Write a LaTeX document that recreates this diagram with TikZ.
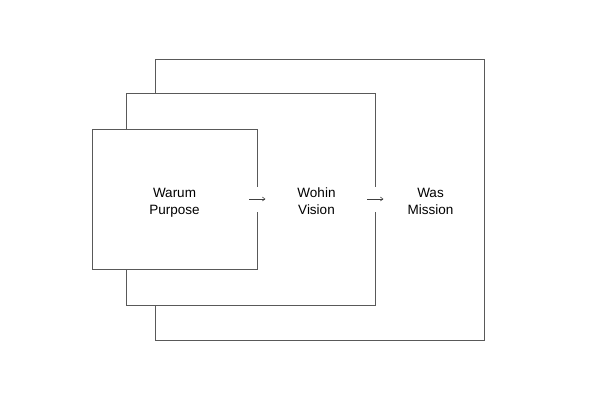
\documentclass[tikz,border=0pt]{standalone}
\usepackage{fontspec}
\setmainfont{Liberation Sans}
\usetikzlibrary{positioning,arrows.meta}

\begin{document}
\begin{tikzpicture}[
  x=1pt, y=-1pt,
  font=\fontsize{13.5}{17}\selectfont,
  frame/.style={draw=black!65, line width=0.7pt, fill=white, inner sep=0pt},
  lbl/.style={align=center, inner sep=0pt, anchor=base},
  gap/.style={fill=white, inner sep=0pt, minimum width=4pt, minimum height=25pt},
  arr/.style={-{Straight Barb[length=2.5pt,width=4pt]}, line width=0.6pt, black!75}
]
\useasboundingbox (0,0) rectangle (600,399);
% nested frames
\node[frame, minimum width=329pt, minimum height=281pt] (mission) at (319.5,199.5) {};
\node[frame, minimum width=249pt, minimum height=212pt] (vision) at (250.5,199) {};
\node[frame, minimum width=165pt, minimum height=140pt] (purpose) at (174.5,199) {};
% labels
\node[lbl] (warum) at (174.5,214) {Warum\\Purpose};
\node[lbl] (wohin) at (316.5,214) {Wohin\\Vision};
\node[lbl] (was) at (430.5,214) {Was\\Mission};
% arrows through the frame edges
\node[gap] (g1) at (purpose.east) {};
\node[gap] (g2) at (vision.east) {};
\draw[arr] ([xshift=-8pt]g1.center) -- ([xshift=8pt]g1.center);
\draw[arr] ([xshift=-8pt]g2.center) -- ([xshift=8pt]g2.center);
\end{tikzpicture}
\end{document}
